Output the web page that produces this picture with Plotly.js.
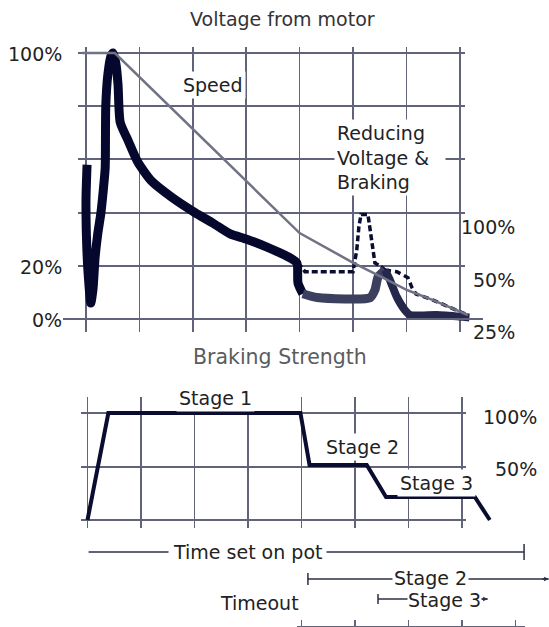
<!DOCTYPE html>
<html><head><meta charset="utf-8">
<script src="https://cdn.plot.ly/plotly-3.0.1.min.js"></script>
<style>html,body{margin:0;padding:0;background:#fff}#chart{width:549px;height:627px}</style>
</head><body><div id="chart"></div>
<script>
// ---------------- data ----------------
const gridTimeTicks = [0, 1, 2, 3, 4, 5, 6, 7];
const voltageTicks = [20, 40, 60, 80, 100];
const brakeTicks = [0, 50, 100];
const timeoutAxisTicks = [4, 5, 6, 7, 8];

// voltage from motor (thick trace), split by shade
const voltageTimeA = [0.02, 0.0, 0.01, 0.04, 0.09, 0.13, 0.17, 0.22, 0.28, 0.34, 0.36, 0.37, 0.41, 0.47, 0.51, 0.56, 0.60, 0.64, 0.79, 0.97, 1.22, 1.59, 2.04, 2.38, 2.70, 3.01, 3.39, 3.82, 3.95, 3.97, 4.06];
const voltageA     = [58, 45, 30, 17, 6, 11, 23, 32, 40, 52, 57, 80, 92, 99, 100, 96, 88, 74, 67, 59, 52, 46, 40, 36, 32, 30, 27, 23, 21, 13.5, 9.5];
const voltageTimeB = [4.06, 4.33, 5.32, 5.41, 5.47, 5.60];
const voltageB     = [9.5, 8.1, 8.0, 10.9, 15.8, 18.4];
const voltageTimeC = [5.60, 5.69, 5.82, 5.97, 6.07, 6.57, 7.06, 7.18];
const voltageC     = [18.4, 14.7, 8.3, 3.4, 1.5, 1.5, 0.8, 0.6];

// speed
const speedTime = [-0.075, 0.54, 4.0, 4.98, 5.64, 6.01, 6.50, 7.15];
const speed     = [100, 100, 32.3, 21.4, 14.7, 10.9, 7.1, 1.5];

// braking (dashed, top chart)
const brakeTopTimeA = [3.97, 4.10, 5.0, 5.07, 5.11, 5.15, 5.28, 5.36, 5.41, 5.54, 5.60];
const brakeTopA     = [21.1, 17.8, 17.8, 25.9, 34.6, 39.3, 39.3, 28.6, 21.1, 19.5, 18.4];
const brakeTopTimeB = [5.60, 5.82, 6.03, 6.10, 6.18, 6.50, 7.10];
const brakeTopB     = [18.4, 17.8, 15.5, 12.0, 9.4, 7.1, 1.9];

// braking strength (bottom chart)
const brakeTime     = [0, 0.39, 3.98, 4.15, 5.22, 5.58, 7.24, 7.52];
const brakeStrength = [0, 100, 100, 51.5, 51.5, 21.5, 21.5, 0];

// timeout brackets (bottom time units)
const timeoutLabels = ['Time set on pot', 'Stage 2', 'Stage 3'];
const timeoutStart  = [0.02, 4.12, 5.43];
const timeoutEnd    = [8.16, 8.62, 7.48];

// ---------------- layout helpers ----------------
const W = 549, H = 627;
const PX = x => x / W;
const PY = y => 1 - y / H;
const FONT = 'DejaVu Sans, Verdana, sans-serif';
const GRID = '#60637b';
const NAVY = '#0a0c30';

// top chart pixel mapping: x = 86 + 53.4*u, y = 319 - 2.66*v
const tX = px => (px - 86) / 53.4, tY = py => (319 - py) / 2.66;
// bottom chart pixel mapping: x = 87.5 + 53.5*u, y = 520 - 1.07*v
const bX = px => (px - 87.5) / 53.5, bY = py => (520 - py) / 1.07;

function hidden(extra) {
  return Object.assign({showgrid:false, zeroline:false, showline:false, showticklabels:false, ticks:''}, extra);
}

const SPL = {shape:'spline', smoothing:0.6};
const traces = [
  {x:[], y:[], xaxis:'x', yaxis:'y', type:'scatter'},
  {x:brakeTopTimeA, y:brakeTopA, xaxis:'x2', yaxis:'y2', mode:'lines', line:{color:NAVY, width:3.5, dash:'6px,3px'}},
  {x:brakeTopTimeB, y:brakeTopB, xaxis:'x2', yaxis:'y2', mode:'lines', line:{color:NAVY, width:3.5, dash:'6px,4px'}},
  {x:voltageTimeA, y:voltageA, xaxis:'x2', yaxis:'y2', mode:'lines', line:Object.assign({color:'#05082c', width:9}, SPL)},
  {x:voltageTimeB, y:voltageB, xaxis:'x2', yaxis:'y2', mode:'lines', line:Object.assign({color:'#3d3f5f', width:9}, SPL)},
  {x:voltageTimeC, y:voltageC, xaxis:'x2', yaxis:'y2', mode:'lines', line:Object.assign({color:'#25284a', width:8}, SPL)},
  {x:speedTime, y:speed, xaxis:'x2', yaxis:'y2', mode:'lines', line:{color:'#717385', width:2.5}},
  {x:[], y:[], xaxis:'x3', yaxis:'y3', type:'scatter'},
  {x:brakeTime, y:brakeStrength, xaxis:'x4', yaxis:'y4', mode:'lines', line:{color:NAVY, width:4}},
  {x:[], y:[], xaxis:'x5', yaxis:'y5', type:'scatter'}
];
traces.forEach(t => { t.showlegend = false; t.hoverinfo = 'skip'; });

const layout = {
  width: W, height: H,
  margin: {l:0, r:0, t:0, b:0},
  paper_bgcolor: '#ffffff', plot_bgcolor: 'rgba(0,0,0,0)',
  showlegend: false,
  font: {family: FONT, size: 19, color: '#222'},
  // top grid
  xaxis: hidden({domain:[PX(78), PX(465)], range:[tX(78), tX(465)], tickvals:gridTimeTicks, showgrid:true, gridcolor:GRID, gridwidth:1.5, anchor:'y'}),
  yaxis: hidden({domain:[PY(332), PY(47)], range:[tY(332), tY(47)], tickvals:voltageTicks, showgrid:true, gridcolor:GRID, gridwidth:2, anchor:'x'}),
  // top data
  xaxis2: hidden({domain:[PX(40), PX(500)], range:[tX(40), tX(500)], anchor:'y2'}),
  yaxis2: hidden({domain:[PY(345), PY(30)], range:[tY(345), tY(30)], anchor:'x2'}),
  // bottom grid
  xaxis3: hidden({domain:[PX(81), PX(466)], range:[bX(81), bX(466)], tickvals:gridTimeTicks, showgrid:true, gridcolor:GRID, gridwidth:1.5, anchor:'y3'}),
  yaxis3: hidden({domain:[PY(528), PY(397)], range:[bY(528), bY(397)], tickvals:brakeTicks, showgrid:true, gridcolor:GRID, gridwidth:2, anchor:'x3'}),
  // bottom data
  xaxis4: hidden({domain:[PX(60), PX(549)], range:[bX(60), bX(549)], anchor:'y4'}),
  yaxis4: hidden({domain:[PY(540), PY(385)], range:[bY(540), bY(385)], anchor:'x4'}),
  // timeout axis at the very bottom
  xaxis5: hidden({domain:[PX(297), PX(525)], range:[bX(297), bX(525)], tickvals:timeoutAxisTicks,
                  showline:true, linecolor:GRID, linewidth:1.5, ticks:'inside', ticklen:6, tickwidth:1.5, tickcolor:GRID, anchor:'y5'}),
  yaxis5: hidden({domain:[PY(626), PY(612)], range:[0, 1], anchor:'x5'}),
  shapes: [],
  annotations: []
};

// 0% line of the top chart (longer than the other grid lines)
layout.shapes.push({type:'line', xref:'paper', yref:'y2', x0:PX(63), x1:PX(483), y0:0, y1:0, line:{color:GRID, width:2}});

// timeout brackets
const bracketRowY = [552, 579, 599];
const bracketStartTick = [false, true, true];
const bracketEndStyle = ['tick', 'arrow', 'arrow'];
const bracketTickHalf = [8, 6, 5];
const BR = '#2b2e48';
timeoutLabels.forEach((lab, i) => {
  const y = PY(bracketRowY[i]);
  layout.shapes.push({type:'line', xref:'x4', yref:'paper', x0:timeoutStart[i], x1:timeoutEnd[i], y0:y, y1:y, line:{color:BR, width:1.5}});
  const h = bracketTickHalf[i];
  if (bracketStartTick[i]) layout.shapes.push({type:'line', xref:'x4', yref:'paper', x0:timeoutStart[i], x1:timeoutStart[i], y0:PY(bracketRowY[i]-h), y1:PY(bracketRowY[i]+h), line:{color:BR, width:1.5}});
  if (bracketEndStyle[i] === 'tick') layout.shapes.push({type:'line', xref:'x4', yref:'paper', x0:timeoutEnd[i], x1:timeoutEnd[i], y0:PY(bracketRowY[i]-h), y1:PY(bracketRowY[i]+h), line:{color:BR, width:1.5}});
  else layout.annotations.push({x:timeoutEnd[i], y:y, xref:'x4', yref:'paper', text:'', showarrow:true, ax:-8, ay:0, arrowhead:2, arrowsize:0.7, arrowwidth:1.3, arrowcolor:BR, standoff:0});
});

function ann(text, x, y, o) {
  return Object.assign({text:text, x:PX(x), y:PY(y), xref:'paper', yref:'paper', showarrow:false,
    xanchor:'center', yanchor:'middle', font:{family:FONT, size:19, color:'#222'}}, o || {});
}
const WB = {bgcolor:'#ffffff', borderpad:2};
layout.annotations.push(
  ann('Voltage from motor', 282, 19, {font:{family:FONT, size:19, color:'#333'}}),
  ann('100%', 64, 54, {xanchor:'right'}),
  ann('20%', 64, 267, {xanchor:'right'}),
  ann('0%', 64, 320, {xanchor:'right'}),
  ann('Speed', 213, 85, WB),
  ann('Reducing<br>Voltage &amp;<br>Braking', 334, 157, {xanchor:'left', align:'left', width:106, bgcolor:'#ffffff', borderpad:2}),
  ann('100%', 517, 227, {xanchor:'right'}),
  ann('50%', 517, 280, {xanchor:'right'}),
  ann('25%', 517, 332, {xanchor:'right'}),
  ann('Braking Strength', 280, 357, {font:{family:FONT, size:20.5, color:'#5c5c5c'}}),
  ann('Stage 1', 215, 398, WB),
  ann('Stage 2', 362, 447, WB),
  ann('Stage 3', 436, 483, WB),
  ann('100%', 539, 417, {xanchor:'right'}),
  ann('50%', 539, 469, {xanchor:'right'}),
  ann(timeoutLabels[0], 247, 552, Object.assign({}, WB, {borderpad:4})),
  ann(timeoutLabels[2], 444, 600, {bgcolor:'#ffffff', borderpad:0}),
  ann(timeoutLabels[1], 430, 578, {bgcolor:'#ffffff', borderpad:1}),
  ann('Timeout', 259, 603)
);

Plotly.newPlot('chart', traces, layout, {staticPlot:true, displayModeBar:false});
</script></body></html>
